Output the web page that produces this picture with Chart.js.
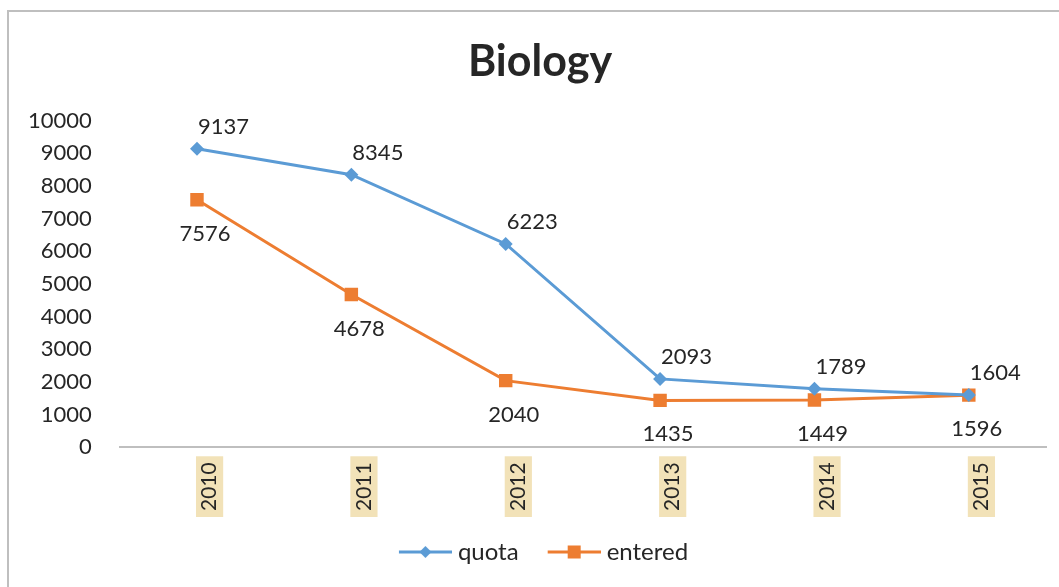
<!DOCTYPE html>
<html>
<head>
<meta charset="utf-8">
<script src="https://cdn.jsdelivr.net/npm/chart.js@4.4.1/dist/chart.umd.min.js"></script>
<style>
  html, body { margin: 0; padding: 0; background: #fff; }
  #wrap { width: 1059px; height: 587px; position: relative; }
</style>
</head>
<body>
<div id="wrap"><canvas id="chart"></canvas></div>
<script>
const years = ['2010', '2011', '2012', '2013', '2014', '2015'];
const quota = [9137, 8345, 6223, 2093, 1789, 1604];
const entered = [7576, 4678, 2040, 1435, 1449, 1596];
const yTicks = [0, 1000, 2000, 3000, 4000, 5000, 6000, 7000, 8000, 9000, 10000];

const blue = '#5b9bd5';
const orange = '#ed7d31';
const textColor = '#262626';
const fontFamily = 'Lato, "Open Sans", sans-serif';

// legend swatch: line with the marker on top, blank space on the left
// so the items sit further apart
function legendSwatch(color, marker) {
    const c = document.createElement('canvas');
    c.width = 74;
    c.height = 16;
    const g = c.getContext('2d');
    g.strokeStyle = color;
    g.lineWidth = 3;
    g.beginPath();
    g.moveTo(21, 8);
    g.lineTo(74, 8);
    g.stroke();
    g.fillStyle = color;
    const cx = 47.5;
    if (marker === 'diamond') {
        g.beginPath();
        g.moveTo(cx, 2);
        g.lineTo(cx + 6, 8);
        g.lineTo(cx, 14);
        g.lineTo(cx - 6, 8);
        g.closePath();
        g.fill();
    } else {
        g.fillRect(cx - 6.5, 1.5, 13, 13);
    }
    return c;
}

// outer chart frame (only left and top edges are visible)
const framePlugin = {
    id: 'frame',
    beforeDraw(chart) {
        const ctx = chart.ctx;
        ctx.save();
        ctx.strokeStyle = '#bfbfbf';
        ctx.lineWidth = 2;
        ctx.strokeRect(8, 11, 1200, 800);
        ctx.restore();
    }
};

// the original frame is wider than the window, so title and legend sit a bit right of centre
const nudgePlugin = {
    id: 'nudge',
    afterLayout(chart) {
        if (chart.titleBlock) {
            chart.titleBlock.left += 17;
            chart.titleBlock.right += 17;
        }
        if (chart.legend) {
            chart.legend.left += 13;
            chart.legend.right += 13;
        }
    }
};

// value labels next to each point
const valueLabels = {
    id: 'valueLabels',
    afterDatasetsDraw(chart) {
        const ctx = chart.ctx;
        ctx.save();
        ctx.font = '22px ' + fontFamily;
        ctx.fillStyle = textColor;
        ctx.textBaseline = 'middle';
        chart.data.datasets.forEach((ds, i) => {
            const meta = chart.getDatasetMeta(i);
            meta.data.forEach((pt, j) => {
                const v = ds.data[j];
                if (i === 0) {
                    ctx.textAlign = 'left';
                    ctx.fillText(String(v), pt.x + 1, pt.y - 22);
                } else {
                    ctx.textAlign = 'center';
                    ctx.fillText(String(v), pt.x + 8, pt.y + 34);
                }
            });
        });
        ctx.restore();
    }
};

new Chart(document.getElementById('chart'), {
    type: 'line',
    data: {
        labels: years,
        datasets: [
            {
                label: 'quota',
                data: quota,
                borderColor: blue,
                backgroundColor: blue,
                borderWidth: 3,
                pointStyle: 'rectRot',
                pointRadius: 7,
                pointBorderWidth: 0,
                tension: 0
            },
            {
                label: 'entered',
                data: entered,
                borderColor: orange,
                backgroundColor: orange,
                borderWidth: 3,
                pointStyle: 'rect',
                pointRadius: 9.5,
                pointBorderWidth: 0,
                tension: 0
            }
        ]
    },
    options: {
        responsive: true,
        maintainAspectRatio: false,
        animation: false,
        layout: { padding: { top: 18, left: 0, right: 13, bottom: 13 } },
        scales: {
            x: {
                offset: true,
                grid: { display: false, drawTicks: false },
                border: { display: true, color: '#bfbfbf', width: 2 },
                ticks: {
                    color: textColor,
                    font: { family: fontFamily, size: 21 },
                    maxRotation: 90,
                    minRotation: 90,
                    padding: 15,
                    showLabelBackdrop: true,
                    backdropColor: '#f2e2b8',
                    backdropPadding: { top: 1, bottom: 1, left: 6, right: 6 }
                }
            },
            y: {
                min: 0,
                max: 10000,
                afterBuildTicks(axis) {
                    axis.ticks = yTicks.map(v => ({ value: v }));
                },
                grid: { display: false, drawTicks: false },
                border: { display: false },
                ticks: {
                    color: textColor,
                    font: { family: fontFamily, size: 22 },
                    padding: 28,
                    callback: v => String(v)
                }
            }
        },
        plugins: {
            title: {
                display: true,
                text: 'Biology',
                color: textColor,
                font: { family: fontFamily, size: 43, weight: 'bold' },
                padding: { top: 18, bottom: 33 }
            },
            legend: {
                position: 'bottom',
                labels: {
                    usePointStyle: true,
                    pointStyleWidth: 62,
                    color: textColor,
                    font: { family: fontFamily, size: 24 },
                    padding: 14,
                    generateLabels(chart) {
                        return chart.data.datasets.map((ds, i) => ({
                            text: ds.label,
                            fontColor: textColor,
                            pointStyle: legendSwatch(ds.borderColor, i === 0 ? 'diamond' : 'square'),
                            datasetIndex: i,
                            hidden: false,
                            lineWidth: 0
                        }));
                    }
                }
            },
            tooltip: { enabled: false }
        }
    },
    plugins: [framePlugin, nudgePlugin, valueLabels]
});
</script>
</body>
</html>
